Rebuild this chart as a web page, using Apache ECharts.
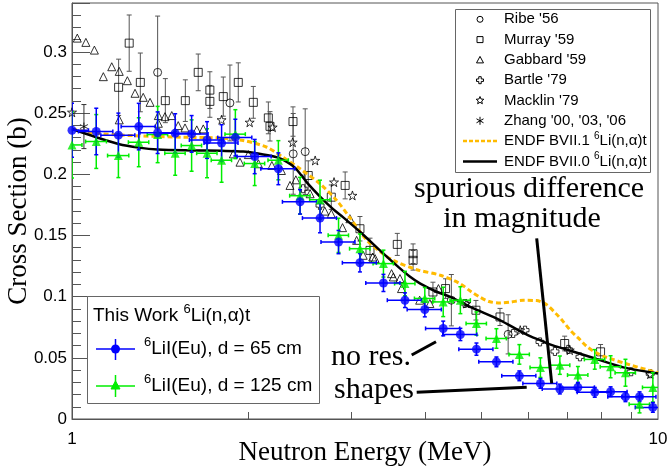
<!DOCTYPE html>
<html>
<head>
<meta charset="utf-8">
<script src="https://cdn.jsdelivr.net/npm/echarts@6.0.0/dist/echarts.min.js"></script>
<style>
html,body{margin:0;padding:0;background:#fff;}
#chart{width:668px;height:470px;}
</style>
</head>
<body>
<div id="chart"></div>
<script>
// ---------------- DATA ----------------
// This work, 6LiI(Eu) d = 65 cm
const blueE  = [1.00,1.10,1.20,1.30,1.40,1.50,1.60,1.70,1.80,1.90,2.05,2.25,2.45,2.65,2.85,3.10,3.40,3.70,4.00,4.30,4.60,4.90,5.30,5.80,6.30,6.80,7.30,7.80,8.30,8.80,9.30,9.80];
const blueXS = [0.236,0.235,0.232,0.239,0.234,0.2335,0.233,0.228,0.2255,0.230,0.2145,0.2045,0.1775,0.1642,0.1446,0.1277,0.1112,0.0971,0.0895,0.0740,0.0691,0.0571,0.0467,0.0353,0.0291,0.0245,0.0259,0.0218,0.0223,0.0182,0.0182,0.0095];
const blueDY = [0.022,0.019,0.018,0.019,0.017,0.016,0.015,0.015,0.015,0.015,0.014,0.013,0.010,0.012,0.0095,0.0075,0.007,0.006,0.006,0.006,0.005,0.005,0.004,0.004,0.004,0.004,0.004,0.004,0.004,0.004,0.004,0.004];
const blueDX = [0.067,0.074,0.080,0.087,0.094,0.10,0.107,0.114,0.12,0.127,0.137,0.15,0.164,0.177,0.19,0.207,0.228,0.248,0.268,0.288,0.308,0.328,0.355,0.388,0.42,0.455,0.49,0.52,0.555,0.59,0.62,0.655];
// This work, 6LiI(Eu) d = 125 cm
const greenE  = [1.00,1.10,1.20,1.30,1.40,1.50,1.60,1.70,1.80,1.90,2.05,2.25,2.45,2.65,2.85,3.10,3.40,3.70,4.00,4.30,4.60,4.90,5.30,5.80,6.30,6.80,7.30,7.80,8.30,8.80,9.30,9.80];
const greenXS = [0.224,0.2268,0.2153,0.2262,0.2325,0.2172,0.2235,0.2172,0.2115,0.2328,0.2088,0.2115,0.1825,0.1792,0.1501,0.1392,0.1270,0.1107,0.0985,0.0957,0.0971,0.0780,0.0658,0.0528,0.0420,0.0440,0.0359,0.0487,0.0427,0.0378,0.0120,0.0258];
const greenDY = [0.027,0.022,0.018,0.020,0.023,0.018,0.021,0.020,0.018,0.020,0.018,0.016,0.015,0.016,0.014,0.012,0.011,0.010,0.009,0.012,0.011,0.0095,0.008,0.008,0.008,0.0075,0.007,0.008,0.009,0.011,0.007,0.012];
const greenDX = [0.04,0.045,0.05,0.052,0.056,0.06,0.064,0.068,0.072,0.076,0.082,0.09,0.098,0.106,0.114,0.124,0.136,0.148,0.16,0.172,0.184,0.196,0.212,0.232,0.252,0.272,0.292,0.312,0.332,0.352,0.372,0.392];

// ENDF/B-VII.0 6Li(n,alpha)t
const endf70E  = [1.00,1.10,1.20,1.30,1.40,1.60,1.80,1.96,2.10,2.24,2.33,2.40,2.46,2.52,2.65,2.79,2.90,3.10,3.40,3.60,3.77,3.93,4.19,4.42,4.78,5.38,5.82,6.06,6.29,6.54,7.07,7.86,8.73,10.0];
const endf70XS = [0.237,0.2303,0.2248,0.2218,0.2202,0.2195,0.2192,0.2186,0.2165,0.2138,0.2100,0.2055,0.1995,0.1930,0.1818,0.1715,0.1650,0.1530,0.1351,0.1245,0.1165,0.1107,0.1040,0.0998,0.0916,0.0807,0.0718,0.0675,0.0645,0.0610,0.0560,0.0490,0.0422,0.0372];
// ENDF/B-VII.1 6Li(n,alpha)t
const endf71E  = [1.00,1.10,1.27,1.55,1.77,1.96,2.15,2.29,2.45,2.65,2.83,2.98,3.18,3.35,3.53,3.88,4.25,4.59,4.80,4.97,5.15,5.38,5.60,5.89,6.20,6.45,6.70,6.88,7.10,7.30,7.55,7.85,8.16,8.96,10.0];
const endf71XS = [0.237,0.2336,0.2316,0.2303,0.2298,0.2276,0.2221,0.2140,0.2045,0.1922,0.1786,0.1645,0.1465,0.1370,0.1297,0.1220,0.1175,0.1107,0.1040,0.0995,0.0960,0.0948,0.0955,0.0970,0.0968,0.0935,0.0860,0.0800,0.0720,0.0665,0.0595,0.0540,0.0505,0.0442,0.0378];

// Ribe '56
const ribeE  = [1.40,1.86,2.385,2.50,4.44,5.55];
const ribeXS = [0.2833,0.2583,0.2167,0.2185,0.0971,0.0692];
const ribeDY = [0.046,0.031,0.033,0.035,0.021,0.016];
// Murray '59
const murrayE  = [1.201,1.252,1.308,1.443,1.561,1.642,1.719,1.719,1.812,1.922,2.039,2.163,2.177,2.383,2.53,2.77,2.925,3.10,3.225,3.59,3.82,3.82,4.13,4.34,4.89,5.375,6.93,7.98];
const murrayXS = [0.2711,0.3072,0.2751,0.2602,0.2602,0.2833,0.2688,0.2596,0.2635,0.2751,0.2588,0.2461,0.2392,0.2431,0.1990,0.1813,0.1909,0.1555,0.1378,0.1427,0.1351,0.1297,0.1038,0.1066,0.0889,0.0834,0.0617,0.0549];
const murrayDY = [0.023,0.023,0.024,0.018,0.017,0.015,0.015,0.013,0.016,0.016,0.013,0.013,0.012,0.012,0.012,0.010,0.011,0.010,0.010,0.009,0.008,0.008,0.008,0.008,0.008,0.007,0.006,0.006];
// Gabbard '59
const gabbardE  = [1.021,1.056,1.092,1.131,1.169,1.204,1.204,1.243,1.281,1.323,1.359,1.404,1.404,1.441,1.480,1.518,1.559,1.633,1.675,1.885,1.935,2.00,2.08,2.193,2.277,2.355,2.41,2.549,2.70,2.77,2.895,2.98,3.06,3.14,3.26,3.29,3.51,3.535,3.628,3.65,3.92,4.08,4.22];
const gabbardXS = [0.3113,0.3078,0.3015,0.2798,0.2879,0.2841,0.2445,0.2765,0.2662,0.2629,0.2588,0.2480,0.2417,0.2471,0.2480,0.2398,0.2379,0.2363,0.2371,0.2167,0.2099,0.2161,0.2086,0.2072,0.2031,0.1909,0.1955,0.1841,0.1699,0.1677,0.1564,0.1637,0.1460,0.1338,0.1324,0.1311,0.1188,0.1161,0.1148,0.1066,0.0971,0.0944,0.1066];
// Bartle '79
const bartleE  = [2.48,2.65,4.68,5.66,5.93,6.29,6.67,7.03,7.36,9.0,9.7];
const bartleXS = [0.1882,0.1745,0.0944,0.0699,0.0726,0.0630,0.0552,0.0569,0.0508,0.0386,0.0370];
// Macklin '79
const macklinE  = [1.0,1.80,2.01,2.20,2.38,2.60,2.80,3.01,4.71,5.82,7.07,9.7];
const macklinXS = [0.2507,0.2445,0.2425,0.2385,0.2262,0.2113,0.1936,0.1827,0.0944,0.0726,0.0563,0.0367];
// Zhang '00, '03, '06
const zhangE  = [1.048];
const zhangXS = [0.2390];
const zhangDY = [0.018];

// axis ticks / labels
const xTickValues  = [2,3,4,5,6,7,8,9];
const xLabelValues = [1,10];
const yLabelValues = [0,0.05,0.1,0.15,0.2,0.25,0.3];

// ---------------- BUILD ----------------
const zip2 = (a,b) => a.map((v,i)=>[v,b[i]]);
const zipErr = (e,v,dy,dx) => e.map((x,i)=>[x, v[i], dy ? dy[i] : 0, dx ? dx[i] : 0]);

function errRender(color, width, cap) {
  return function(params, api) {
    const x = api.value(0), y = api.value(1), dy = api.value(2), dx = api.value(3);
    const st = {stroke: color, lineWidth: width};
    const ch = [];
    if (dy > 0) {
      const t = api.coord([x, y + dy]), b = api.coord([x, y - dy]);
      ch.push({type:'line', shape:{x1:t[0],y1:t[1],x2:b[0],y2:b[1]}, style:st});
      if (cap > 0) {
        ch.push({type:'line', shape:{x1:t[0]-cap,y1:t[1],x2:t[0]+cap,y2:t[1]}, style:st});
        ch.push({type:'line', shape:{x1:b[0]-cap,y1:b[1],x2:b[0]+cap,y2:b[1]}, style:st});
      }
    }
    if (dx > 0) {
      const l = api.coord([x - dx, y]), r = api.coord([x + dx, y]);
      ch.push({type:'line', shape:{x1:l[0],y1:l[1],x2:r[0],y2:r[1]}, style:st});
      if (cap > 0) {
        ch.push({type:'line', shape:{x1:l[0],y1:l[1]-cap,x2:l[0],y2:l[1]+cap}, style:st});
        ch.push({type:'line', shape:{x1:r[0],y1:r[1]-cap,x2:r[0],y2:r[1]+cap}, style:st});
      }
    }
    return {type:'group', children: ch};
  };
}

const crossPath = 'path://M3,0H7V3H10V7H7V10H3V7H0V3H3Z';
const starPath = 'path://M5,0L6.2,3.6L10,3.6L6.9,5.9L8.1,9.5L5,7.3L1.9,9.5L3.1,5.9L0,3.6L3.8,3.6Z';
const astPath = 'path://M5,0V10M0.7,2.5L9.3,7.5M0.7,7.5L9.3,2.5';
const openStyle = {color:'rgba(0,0,0,0)', borderColor:'#000', borderWidth:1};

function openScatter(name, data, symbol, size) {
  return {name, type:'scatter', data, symbol, symbolSize:size, itemStyle:openStyle, z:3, silent:true};
}
function errSeries(data, color, width, cap, z) {
  return {type:'custom', data, renderItem: errRender(color, width, cap), clip:true, z:z, silent:true,
          encode:{x:0, y:1}};
}

const series = [
  errSeries(zipErr(ribeE, ribeXS, ribeDY), '#555', 1, 2.5, 2),
  errSeries(zipErr(murrayE, murrayXS, murrayDY), '#555', 1, 2.5, 2),
  errSeries(zipErr(zhangE, zhangXS, zhangDY), '#333', 1, 2.5, 2),
  openScatter("Ribe '56", zip2(ribeE, ribeXS), 'circle', 8),
  openScatter("Murray '59", zip2(murrayE, murrayXS), 'rect', 8),
  openScatter("Gabbard '59", zip2(gabbardE, gabbardXS), 'triangle', 8),
  openScatter("Bartle '79", zip2(bartleE, bartleXS), crossPath, 8),
  openScatter("Macklin '79", zip2(macklinE, macklinXS), starPath, 9),
  openScatter("Zhang", zip2(zhangE, zhangXS), astPath, 8),
  {name:'ENDF VII.1', type:'line', data: zip2(endf71E, endf71XS), showSymbol:false, smooth:0.3,
   lineStyle:{color:'#ffbb00', width:3, type:[5,3]}, z:4, silent:true},
  {name:'ENDF VII.0', type:'line', data: zip2(endf70E, endf70XS), showSymbol:false, smooth:0.3,
   lineStyle:{color:'#000', width:2.5}, z:5, silent:true},
  errSeries(zipErr(greenE, greenXS, greenDY, greenDX), '#00ee00', 1.5, 2, 6),
  errSeries(zipErr(blueE, blueXS, blueDY, blueDX), '#0000ff', 1.5, 2, 7),
  {name:'green', type:'scatter', data: zip2(greenE, greenXS), symbol:'triangle', symbolSize:9,
   itemStyle:{color:'#00ee00'}, z:8, silent:true},
  {name:'blue', type:'scatter', data: zip2(blueE, blueXS), symbol:'circle', symbolSize:9,
   itemStyle:{color:'#0000ff'}, z:9, silent:true}
];

// ---------------- LEGENDS & ANNOTATIONS ----------------
const SANS = '"Liberation Sans", Arial, sans-serif';
const SERIF = '"Liberation Serif", "Times New Roman", serif';
const mctx = document.createElement('canvas').getContext('2d');
function textWidth(s, fs, family) { mctx.font = fs + 'px ' + family; return mctx.measureText(s).width; }

function txt(x, y, text, fs, family, align) {
  return {type:'text', z:101, silent:true,
          style:{x, y, text, fontSize:fs, fontFamily:family, fill:'#000',
                 align: align || 'left', verticalAlign:'middle',
                 textAlign: align || 'left', textVerticalAlign:'middle'}};
}
// text made of pieces; pieces marked sup are drawn smaller and raised
function supLine(x, y, pieces, fs, sfs) {
  const out = []; let cx = x;
  pieces.forEach(p => {
    const isSup = p[0] === 'sup';
    const size = isSup ? sfs : fs;
    out.push(txt(cx, isSup ? y - fs*0.33 : y, p[1], size, SANS, 'left'));
    cx += textWidth(p[1], size, SANS);
  });
  return out;
}
function seg(x1,y1,x2,y2,color,w,dash) {
  const s = {stroke:color, lineWidth:w};
  if (dash) s.lineDash = dash;
  return {type:'line', z:101, silent:true, shape:{x1,y1,x2,y2}, style:s};
}
function poly(pts, stroke, fill) {
  return {type:'polygon', z:101, silent:true, shape:{points:pts}, style:{stroke, fill:fill||'none', lineWidth:1}};
}
function starPts(cx, cy, R) {
  const p = []; const r = R*0.45;
  for (let i=0;i<10;i++){ const a = -Math.PI/2 + i*Math.PI/5; const rr = i%2?r:R; p.push([cx+rr*Math.cos(a), cy+rr*Math.sin(a)]); }
  return p;
}
function crossPts(cx, cy, R) {
  const a = R*0.35;
  return [[cx-a,cy-R],[cx+a,cy-R],[cx+a,cy-a],[cx+R,cy-a],[cx+R,cy+a],[cx+a,cy+a],[cx+a,cy+R],[cx-a,cy+R],[cx-a,cy+a],[cx-R,cy+a],[cx-R,cy-a],[cx-a,cy-a]];
}

const LX = 480, TX = 504;
const rows = [19.3, 39.6, 59.9, 80.2, 100.5, 120.8, 141.1, 161.4];
const topLegend = [
  {type:'rect', z:100, silent:true, shape:{x:455.5, y:9.5, width:195, height:163}, style:{fill:'#fff', stroke:'#666', lineWidth:1}},
  {type:'circle', z:101, silent:true, shape:{cx:LX, cy:rows[0], r:3}, style:{fill:'none', stroke:'#000', lineWidth:1}},
  {type:'rect', z:101, silent:true, shape:{x:LX-3, y:rows[1]-3, width:6, height:6}, style:{fill:'none', stroke:'#000', lineWidth:1}},
  poly([[LX, rows[2]-3.5],[LX+3.5, rows[2]+3],[LX-3.5, rows[2]+3]], '#000'),
  poly(crossPts(LX, rows[3], 3.5), '#000'),
  poly(starPts(LX, rows[4], 4), '#000'),
  seg(LX, rows[5]-4, LX, rows[5]+4, '#000', 1),
  seg(LX-3.5, rows[5]-2, LX+3.5, rows[5]+2, '#000', 1),
  seg(LX-3.5, rows[5]+2, LX+3.5, rows[5]-2, '#000', 1),
  seg(463, rows[6], 497, rows[6], '#ffbb00', 2.5, [4,2]),
  seg(463, rows[7], 497, rows[7], '#000', 2.5),
  txt(TX, rows[0], "Ribe '56", 15, SANS),
  txt(TX, rows[1], "Murray '59", 15, SANS),
  txt(TX, rows[2], "Gabbard '59", 15, SANS),
  txt(TX, rows[3], "Bartle '79", 15, SANS),
  txt(TX, rows[4], "Macklin '79", 15, SANS),
  txt(TX, rows[5], "Zhang '00, '03, '06", 15, SANS)
].concat(
  supLine(TX, rows[6], [['', 'ENDF BVII.1 '], ['sup', '6'], ['', 'Li(n,α)t']], 15, 10),
  supLine(TX, rows[7], [['', 'ENDF BVII.0 '], ['sup', '6'], ['', 'Li(n,α)t']], 15, 10)
);

const botLegend = [
  {type:'rect', z:100, silent:true, shape:{x:87.5, y:296.5, width:232, height:107}, style:{fill:'#fff', stroke:'#666', lineWidth:1}},
  seg(96, 349, 135, 349, '#0000ff', 1.5),
  seg(115.5, 339, 115.5, 360, '#0000ff', 1.5),
  {type:'circle', z:101, silent:true, shape:{cx:115.5, cy:349, r:4.5}, style:{fill:'#0000ff'}},
  seg(96, 386, 135, 386, '#00ee00', 1.5),
  seg(115.5, 375, 115.5, 397, '#00ee00', 1.5),
  poly([[115.5,381],[120,389],[111,389]], '#00ee00', '#00ee00')
].concat(
  supLine(93, 316, [['', 'This Work '], ['sup', '6'], ['', 'Li(n,α)t']], 19, 13),
  supLine(144, 349, [['sup', '6'], ['', 'LiI(Eu), d = 65 cm']], 19, 13),
  supLine(144, 386, [['sup', '6'], ['', 'LiI(Eu), d = 125 cm']], 19, 13)
);

const notes = [
  txt(529, 189, 'spurious difference', 30, SERIF, 'center'),
  txt(522, 219, 'in magnitude', 30, SERIF, 'center'),
  seg(536.7, 238.3, 551.7, 383.3, '#000', 3),
  txt(371, 357, 'no res.', 30, SERIF, 'center'),
  seg(411.7, 355, 436, 341.7, '#000', 3),
  txt(374, 390, 'shapes', 30, SERIF, 'center'),
  seg(416.7, 392.3, 526.7, 387.3, '#000', 3)
];

// ---------------- CHART ----------------
const chart = echarts.init(document.getElementById('chart'), null, {renderer:'canvas'});
const axisColor = '#555';
chart.setOption({
  animation:false,
  backgroundColor:'#fff',
  grid:{left:72, right:10, top:3, bottom:51, containLabel:false, outerBoundsMode:'none',
        show:true, borderColor:axisColor, borderWidth:1, backgroundColor:'#fff'},
  xAxis:{
    type:'log', logBase:10, min:1, max:10,
    axisLine:{show:true, lineStyle:{color:axisColor}},
    axisTick:{show:true, inside:true, length:7, customValues:xTickValues, lineStyle:{color:axisColor}},
    axisLabel:{customValues:xLabelValues, fontSize:17, fontFamily:SANS, color:'#000', margin:12},
    splitLine:{show:false}, minorTick:{show:false},
    name:'Neutron Energy (MeV)', nameLocation:'middle', nameGap:20, nameMoveOverlap:false,
    nameTextStyle:{fontSize:27, fontFamily:SERIF, color:'#000'}
  },
  yAxis:[
    {type:'value', min:0, max:0.34, interval:0.01, position:'left',
     axisLine:{show:true, lineStyle:{color:axisColor}},
     axisTick:{show:true, inside:true, length:9, lineStyle:{color:axisColor}},
     axisLabel:{customValues:yLabelValues, formatter:(v)=>String(+(+v).toFixed(2)), fontSize:17, fontFamily:SANS, color:'#000', margin:5},
     splitLine:{show:false},
     name:'Cross Section (b)', nameLocation:'middle', nameGap:40, nameMoveOverlap:false,
     nameTextStyle:{fontSize:27, fontFamily:SERIF, color:'#000'}},
    {type:'value', min:0, max:0.34, interval:0.05, position:'left', offset:0,
     axisLine:{show:false},
     axisTick:{show:true, inside:true, length:18, lineStyle:{color:axisColor}},
     axisLabel:{show:false}, splitLine:{show:false}}
  ],
  series: series,
  graphic: [].concat(notes, topLegend, botLegend)
});
</script>
</body>
</html>
